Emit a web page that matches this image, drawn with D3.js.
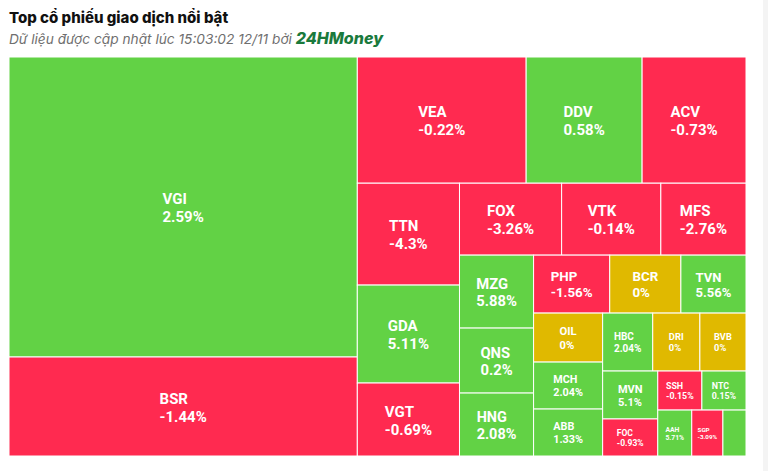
<!DOCTYPE html>
<html>
<head>
<meta charset="utf-8">
<script src="https://cdn.jsdelivr.net/npm/d3@7"></script>
<style>
  html, body { margin: 0; padding: 0; background: #fff; }
  svg { display: block; }
</style>
</head>
<body>
<svg id="chart" width="768" height="471"></svg>
<script>
// ---- Data ----
const symbols = ["VGI","BSR","VEA","DDV","ACV","TTN","GDA","VGT","FOX","VTK","MFS","MZG","QNS","HNG","PHP","BCR","TVN","OIL","MCH","ABB","HBC","DRI","BVB","MVN","FOC","SSH","NTC","AAH","SGP","—"];
const tradeValues = [1044.0,344.5,212.9,146.2,131.0,104.0,100.0,74.5,73.4,71.3,61.2,54.0,48.1,46.6,44.1,41.2,37.7,33.8,32.4,32.4,29.0,27.3,26.7,26.4,20.4,17.2,17.2,15.6,14.3,10.6];
const changes = [2.59,-1.44,-0.22,0.58,-0.73,-4.3,5.11,-0.69,-3.26,-0.14,-2.76,5.88,0.2,2.08,-1.56,0,5.56,0,2.04,1.33,2.04,0,0,5.1,-0.93,-0.15,0.15,5.71,-3.09,1.0];
const titleText = "Top cổ phiếu giao dịch nổi bật";
const subtitleText = "Dữ liệu được cập nhật lúc 15:03:02 12/11 bởi ";
const brandText = "24HMoney";

const COLORS = { up: "#62d245", down: "#ff2a50", flat: "#e0b900" };

const svg = d3.select("#chart");

// header
svg.append("text")
  .attr("x", 9).attr("y", 23)
  .attr("font-family", "Inter, Roboto, sans-serif")
  .attr("font-weight", 800).attr("font-size", 15)
  .attr("fill", "#111")
  .text(titleText);

const sub = svg.append("text")
  .attr("x", 9).attr("y", 44)
  .attr("font-family", "Inter, Roboto, sans-serif")
  .attr("font-style", "italic").attr("font-size", 13.7)
  .attr("fill", "#6f6f6f");
sub.append("tspan").text(subtitleText);
sub.append("tspan").attr("font-weight", 800).attr("font-size", 16).attr("fill", "#1a7a3c").text(brandText);

// faint right strip
svg.append("rect").attr("x", 763).attr("y", 0).attr("width", 5).attr("height", 471).attr("fill", "#f4f4f4");

// ---- Highcharts-like squarified tiling ----
function squarifiedHC(parent, x0, y0, x1, y1) {
  const nodes = parent.children;
  const W = x1 - x0, H = y1 - y0;
  const area = { x: x0, y: y0 };
  const ar = (w, h) => Math.max(w / h, h / w);
  const g = { height: H, width: W, direction: 0, total: 0, nW: 0, lW: 0, nH: 0, lH: 0, elArr: [],
              lP: { total: 0, lH: 0, nH: 0, lW: 0, nW: 0, nR: 0, lR: 0 } };
  const out = [];
  function add(el) {
    g.lP.total = g.elArr[g.elArr.length - 1];
    g.total += el;
    if (g.direction === 0) {
      g.lW = g.nW; g.lP.lH = g.lP.total / g.lW; g.lP.lR = ar(g.lW, g.lP.lH);
      g.nW = g.total / g.height; g.lP.nH = g.lP.total / g.nW; g.lP.nR = ar(g.nW, g.lP.nH);
    } else {
      g.lH = g.nH; g.lP.lW = g.lP.total / g.lH; g.lP.lR = ar(g.lP.lW, g.lH);
      g.nH = g.total / g.width; g.lP.nW = g.lP.total / g.nH; g.lP.nR = ar(g.lP.nW, g.nH);
    }
    g.elArr.push(el);
  }
  function calc(last) {
    const end = g.elArr.length - 1;
    let gW = g.lW, gH = g.lH, keep;
    if (last) { gW = g.nW; gH = g.nH; } else { keep = g.elArr[end]; }
    g.elArr.forEach((p, i) => {
      if (last || i < end) {
        let pw, ph;
        if (g.direction === 0) { pw = gW; ph = p / pw; } else { ph = gH; pw = p / ph; }
        out.push({ x: area.x, y: area.y, w: pw, h: ph });
        if (g.direction === 0) area.y += ph; else area.x += pw;
      }
    });
    g.nW = 0; g.lW = 0; g.elArr = []; g.total = 0;
    if (g.direction === 0) g.width -= gW; else g.height -= gH;
    area.y = y0 + (H - g.height);
    area.x = x0 + (W - g.width);
    g.direction = 1 - g.direction;
    if (!last) add(keep);
  }
  const end = nodes.length - 1;
  nodes.forEach((c, i) => {
    add(W * H * (c.value / parent.value));
    if (g.lP.nR > g.lP.lR) calc(false);
    if (i === end) calc(true);
  });
  nodes.forEach((c, i) => {
    const r = out[i];
    c.x0 = r.x; c.y0 = r.y; c.x1 = r.x + r.w; c.y1 = r.y + r.h;
  });
}

const data = symbols.map((s, i) => ({ name: s, value: tradeValues[i], change: changes[i] }));
const root = d3.hierarchy({ children: data })
  .sum(d => d.value || 0)
  .sort((a, b) => b.value - a.value);

const TM = { x: 9, y: 57, w: 737, h: 399 };
d3.treemap().size([TM.w, TM.h]).tile(squarifiedHC).round(false)(root);

const gTree = svg.append("g").attr("transform", `translate(${TM.x},${TM.y})`);
const cells = gTree.selectAll("g.cell").data(root.leaves()).join("g").attr("class", "cell");

cells.append("rect")
  .attr("x", d => d.x0).attr("y", d => d.y0)
  .attr("width", d => d.x1 - d.x0).attr("height", d => d.y1 - d.y0)
  .attr("fill", d => d.data.change > 0 ? COLORS.up : (d.data.change < 0 ? COLORS.down : COLORS.flat))
  .attr("stroke", "#fff").attr("stroke-width", 1);

cells.each(function (d) {
  const w = d.x1 - d.x0, h = d.y1 - d.y0;
  const fs = Math.min(15, 0.2 * w, 0.23 * h);
  if (fs < 5.5) return;
  const cx = (d.x0 + d.x1) / 2, cy = (d.y0 + d.y1) / 2;
  const lh = fs * 1.2;
  const t = d3.select(this).append("text")
    .attr("font-family", "Roboto, sans-serif")
    .attr("font-weight", 700).attr("font-size", fs)
    .attr("fill", "#fff");
  const l1 = t.append("tspan").attr("y", cy - lh / 2 + fs * 0.4).text(d.data.name);
  const l2 = t.append("tspan").attr("y", cy + lh / 2 + fs * 0.4).text(d.data.change + "%");
  const bw = Math.max(l1.node().getComputedTextLength(), l2.node().getComputedTextLength());
  const x = cx - bw / 2;
  l1.attr("x", x); l2.attr("x", x);
});
</script>
</body>
</html>
